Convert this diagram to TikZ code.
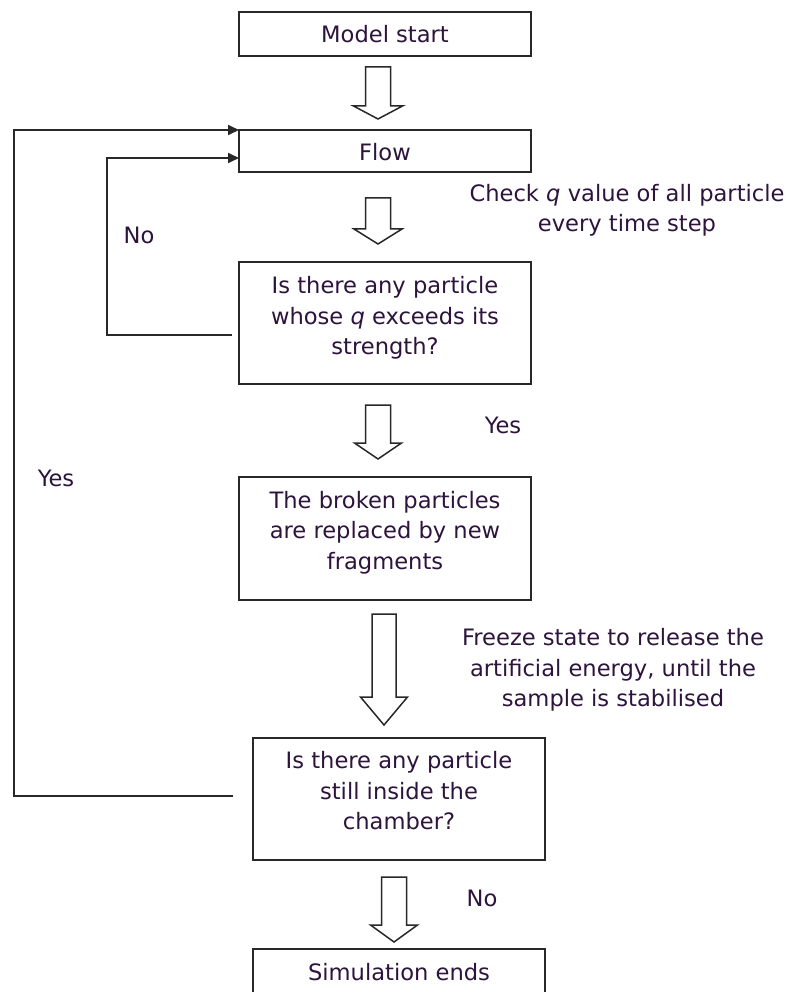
\documentclass[tikz,border=0pt]{standalone}
\usepackage{fontspec}
\setmainfont{DejaVu Sans}
\usetikzlibrary{arrows.meta}
\definecolor{txtc}{RGB}{45,20,60}
\definecolor{linec}{RGB}{40,40,40}
\newcommand{\blockarr}[6]{%
  \draw[barrow] (#1-#5,#2) -- (#1+#5,#2) -- (#1+#5,#3) -- (#1+#6,#3) -- (#1,#4) -- (#1-#6,#3) -- (#1-#5,#3) -- cycle;}
\begin{document}
\begin{tikzpicture}[x=1pt,y=-1pt,
  box/.style={draw=linec, line width=1.9pt, inner sep=0pt, outer sep=0pt, minimum width=292pt},
  txt/.style={text=txtc, font=\fontsize{22.6}{30.5}\selectfont, align=center, inner sep=0pt},
  loopline/.style={draw=linec, line width=1.8pt, -{Triangle[length=11pt,width=10pt]}},
  barrow/.style={draw=linec, line width=1.5pt, fill=white, line join=miter}
]
\useasboundingbox (0,0) rectangle (791,992);
\fill[white] (0,0) rectangle (791,992);

% boxes
\node[box, minimum height=44pt] (n1) at (385,34) {};
\node[box, minimum height=42pt] (n2) at (385,151) {};
\node[box, minimum height=122pt] (n3) at (385,323) {};
\node[box, minimum height=123pt] (n4) at (385,538.5) {};
\node[box, minimum height=122pt] (n5) at (399,799) {};
\node[box, minimum height=52pt] (n6) at (399,975) {};

% texts
\node[txt] (t1) at (385,34) {Model start};
\node[txt] (t2) at (385,152) {Flow};
\node[txt] (t3) at (627,210.5) {Check \textit{q} value of all particle\\every time step};
\node[txt] (t4) at (139,235) {No};
\node[txt] (t5) at (385,318) {Is there any particle\\whose \textit{q} exceeds its\\strength?};
\node[txt] (t6) at (503,425) {Yes};
\node[txt] (t7) at (56,478) {Yes};
\node[txt] (t8) at (385,532.5) {The broken particles\\are replaced by new\\fragments};
\node[txt] (t9) at (613,670) {Freeze state to release the\\artificial energy, until the\\sample is stabilised};
\node[txt] (t10) at (399,791) {Is there any particle\\still inside the\\chamber?};
\node[txt] (t11) at (482,898) {No};
\node[txt] (t12) at (399,972) {Simulation ends};

% block arrows: cx, top, headstart, tip, shafthalf, headhalf
\blockarr{378}{67}{106}{119}{12.5}{24.5}
\blockarr{378}{198}{229}{244}{12.5}{24}
\blockarr{378}{405}{443}{459}{12.5}{23.5}
\blockarr{384}{614}{697}{725}{12}{23.5}
\blockarr{394}{877}{925}{942}{12.5}{23.5}

% loops
\coordinate (noend) at (232,335);
\coordinate (yesend) at (233,796);
\coordinate (nocorner) at (107,158);
\coordinate (yescorner) at (14,130);
\draw[loopline] (noend) -| (nocorner) -- (n2.west |- nocorner);
\draw[loopline] (yesend) -| (yescorner) -- (n2.north west);
\end{tikzpicture}
\end{document}
